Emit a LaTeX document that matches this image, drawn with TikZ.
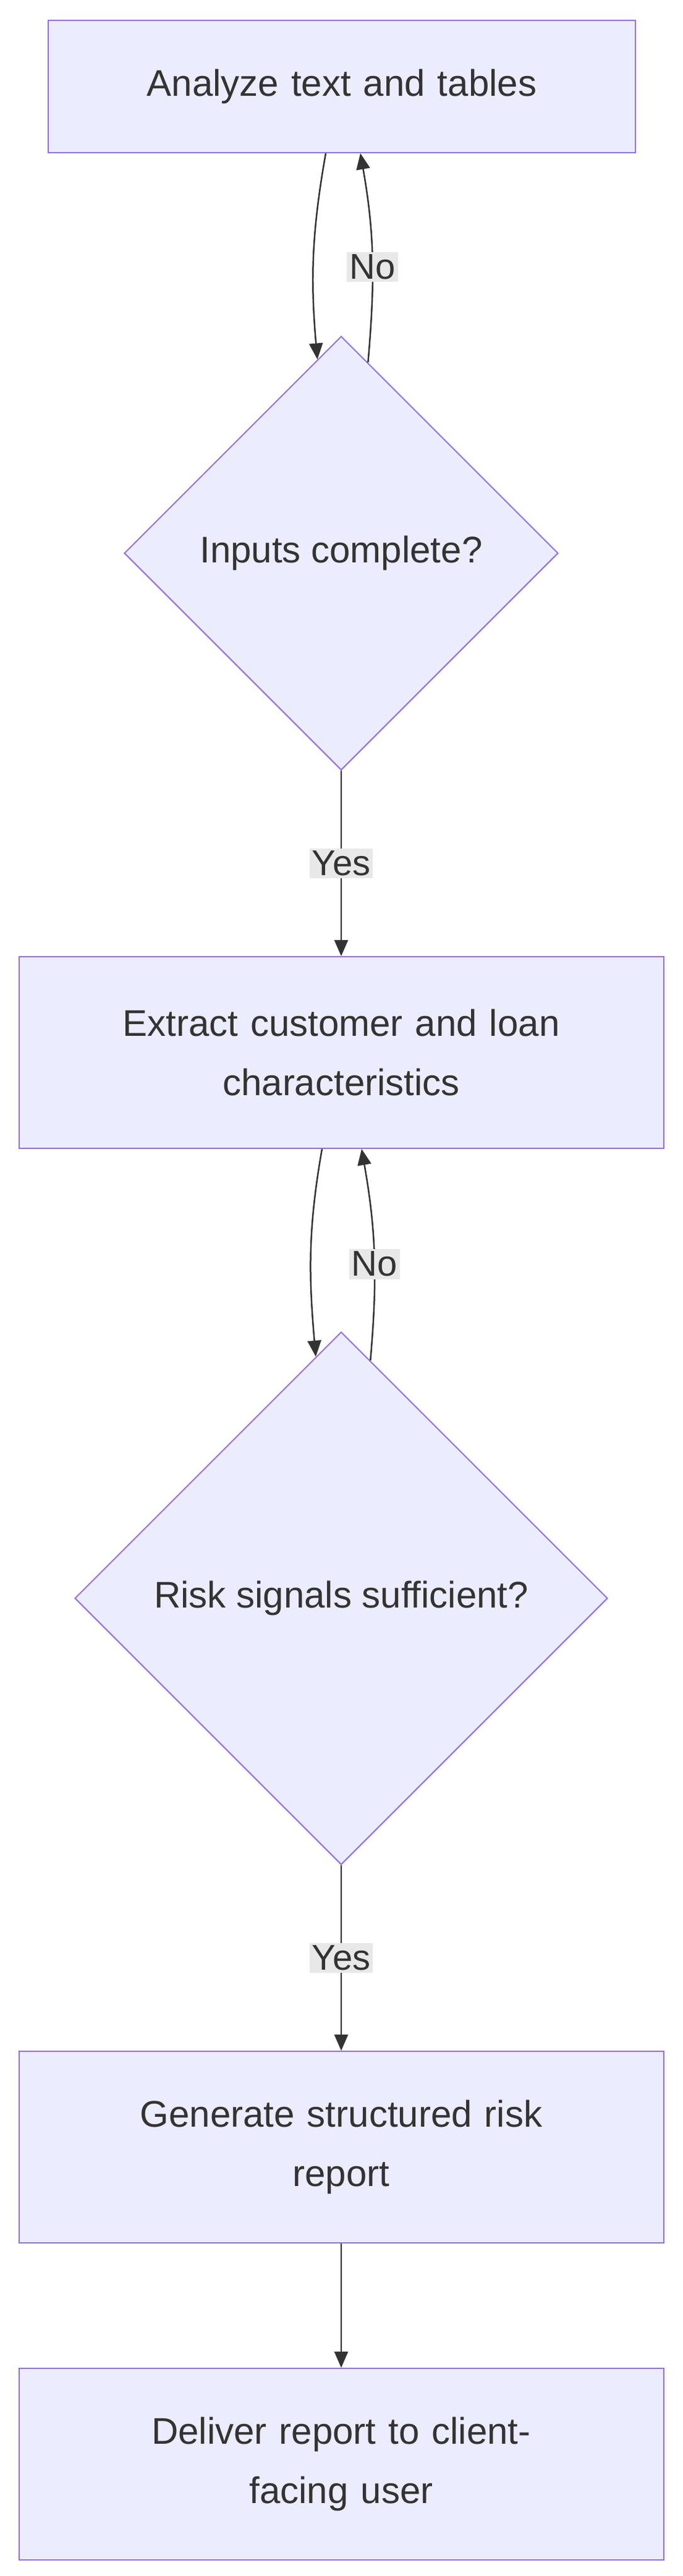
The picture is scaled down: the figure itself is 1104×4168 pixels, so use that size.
\documentclass[tikz,border=0pt]{standalone}
\usepackage{fontspec}
\setmainfont{Liberation Sans}
\usetikzlibrary{shapes.geometric,arrows.meta}
\definecolor{nfill}{HTML}{ECECFF}
\definecolor{nstroke}{HTML}{9370DB}
\definecolor{edge}{HTML}{333333}
\definecolor{lbl}{HTML}{E8E8E8}
\tikzset{
  base/.style={fill=nfill,draw=nstroke,line width=2pt,text=edge,font=\fontsize{60}{96}\selectfont,align=center,inner sep=0pt},
  boxn/.style={base,rectangle,minimum width=1043pt,minimum height=310pt,text width=950pt},
  dia/.style={base,diamond,aspect=1},
  conn/.style={draw=edge,line width=2.5pt,-{Triangle[length=26pt,width=22pt]}},
  elab/.style={fill=lbl,text=edge,font=\fontsize{58}{64}\selectfont,inner sep=4pt}
}
\begin{document}
\begin{tikzpicture}[x=1pt,y=-1pt]
\useasboundingbox (0,0) rectangle (1104,4168);
\node[boxn,minimum width=904pt,minimum height=214pt] (b1) at (553,140) {Analyze text and tables};
\node[dia,minimum width=702pt,minimum height=702pt] (d1) at (552,895) {Inputs complete?};
\node[boxn] (b2) at (552,1703) {Extract customer and loan\\characteristics};
\node[dia,minimum width=862pt,minimum height=862pt] (d2) at (552,2586) {Risk signals sufficient?};
\node[boxn] (b3) at (552,3474) {Generate structured risk\\report};
\node[boxn] (b4) at (552,3987) {Deliver report to client-\\facing user};
\draw[conn] ([xshift=-26pt]b1.south) to[out=-100,in=95] (d1.97.5);
\draw[conn] (d1.82.5) to[out=85,in=-80] node[elab,pos=0.45] {No} ([xshift=30pt]b1.south);
\draw[conn] (d1.south) -- node[elab] {Yes} (b2.north);
\draw[conn] ([xshift=-31pt]b2.south) to[out=-100,in=95] (d2.96.4);
\draw[conn] (d2.83.6) to[out=85,in=-80] node[elab,pos=0.45] {No} ([xshift=33pt]b2.south);
\draw[conn] (d2.south) -- node[elab] {Yes} (b3.north);
\draw[conn] (b3.south) -- (b4.north);
\end{tikzpicture}
\end{document}
